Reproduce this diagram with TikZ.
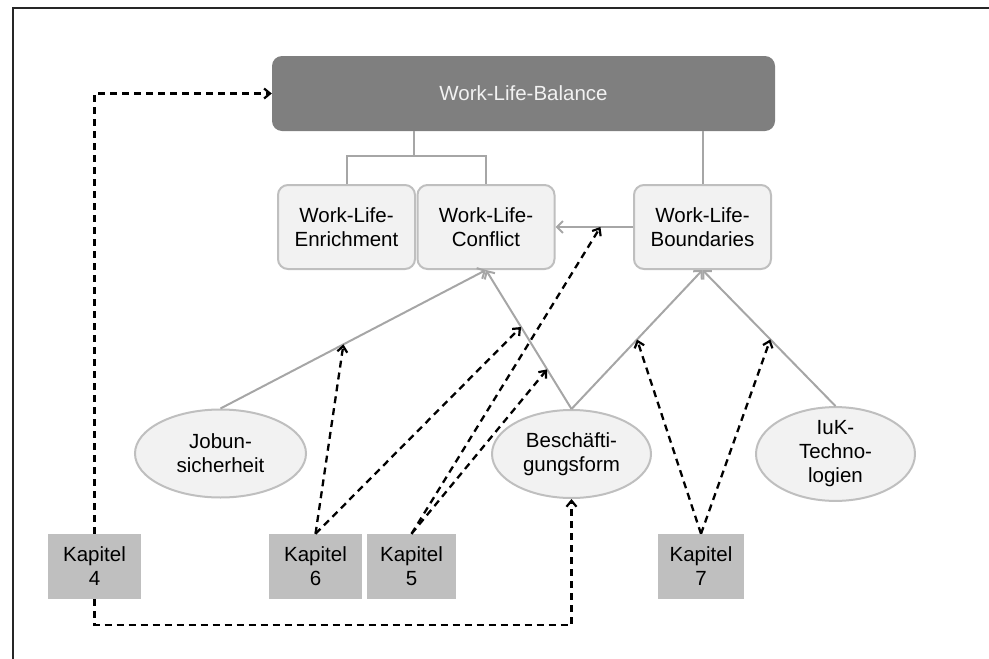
\documentclass[tikz,border=0pt]{standalone}
\usepackage{fontspec}
\setmainfont{Liberation Sans}
\usetikzlibrary{shapes.geometric,arrows.meta,calc}
\definecolor{darkbox}{HTML}{7F7F7F}
\definecolor{lightfill}{HTML}{F2F2F2}
\definecolor{boxline}{HTML}{BFBFBF}
\definecolor{grayline}{HTML}{A6A6A6}
\definecolor{kapfill}{HTML}{BFBFBF}
\definecolor{frameline}{HTML}{262626}
\begin{document}
\begin{tikzpicture}[x=1pt,y=-1pt,
  every node/.style={font=\fontsize{20.5}{24}\selectfont, align=center, inner sep=0pt},
  topbox/.style={rectangle, rounded corners=10pt, fill=darkbox, text=lightfill, minimum width=503pt, minimum height=75pt},
  conceptbox/.style={rectangle, rounded corners=10pt, fill=lightfill, draw=boxline, line width=2pt, minimum width=137pt, minimum height=84pt},
  factor/.style={ellipse, fill=lightfill, draw=boxline, line width=2pt, minimum height=88pt},
  kapbox/.style={rectangle, fill=kapfill, minimum height=65pt},
  structline/.style={draw=grayline, line width=2pt},
  grayarrow/.style={structline, -{Straight Barb[length=6pt,width=12pt,line width=2pt]}},
  dasharrow/.style={draw=black, line width=2.3pt, dash pattern=on 7pt off 5pt, -{Straight Barb[length=6pt,width=10pt,line width=2.2pt]}}
]
\useasboundingbox (0,0) rectangle (989,659);
% frame
\draw[frameline, line width=2pt] (13,659) -- (13,8) -- (989,8);

% concept boxes
\node[topbox] (bal) at (523.5,93.5) {Work-Life-Balance};
\node[conceptbox] (enr) at (346.5,227) {Work-Life-\\Enrichment};
\node[conceptbox] (con) at (486,227) {Work-Life-\\Conflict};
\node[conceptbox] (bnd) at (702.5,227) {Work-Life-\\Boundaries};

% factors
\node[factor, minimum width=171pt] (job) at (220.5,453.5) {Jobun-\\sicherheit};
\node[factor, minimum width=159pt] (besch) at (571.5,454) {Beschäfti-\\gungsform};
\node[factor, minimum width=159pt] (iuk) at (835.5,454) {IuK-\\Techno-\\logien};

% chapters
\node[kapbox, minimum width=93pt] (k4) at (94.5,566.5) {Kapitel\\4};
\node[kapbox, minimum width=93pt] (k6) at (315.5,566.5) {Kapitel\\6};
\node[kapbox, minimum width=89pt] (k5) at (411.5,566.5) {Kapitel\\5};
\node[kapbox, minimum width=86pt] (k7) at (701,566.5) {Kapitel\\7};

% structure lines
\coordinate (junc) at (414,156);
\draw[structline] (bal.south -| junc) -- (junc);
\draw[structline] (enr.north) |- (junc) -| (con.north);
\draw[structline] (bnd.north) -- (bnd.north |- bal.south);
\draw[grayarrow] (bnd.west) -- (con.east);
\draw[grayarrow] (job.north) -- (con.south);
\draw[grayarrow] (besch.north) -- (con.south);
\draw[grayarrow] (besch.north) -- (bnd.south);
\draw[grayarrow] (iuk.north) -- (bnd.south);

% target points on lines
\coordinate (tJob) at ($(job.north)!0.463!(con.south)$);
\coordinate (tBC1) at ($(besch.north)!0.59!(con.south)$);
\coordinate (tBC2) at ($(besch.north)!0.285!(con.south)$);
\coordinate (tBB) at ($(bnd.west)!0.42!(con.east)$);
\coordinate (tBnd) at ($(besch.north)!0.50!(bnd.south)$);
\coordinate (tIuK) at ($(iuk.north)!0.49!(bnd.south)$);
\coordinate (lowc) at (besch.south |- 0,625);

% chapter arrows
\draw[dasharrow] (k4.north) |- (bal.west);
\draw[dasharrow] (k4.south) |- (lowc) -- (besch.south);
\draw[dasharrow] (k6.north) -- (tJob);
\draw[dasharrow] (k6.north) -- (tBC1);
\draw[dasharrow] (k5.north) -- (tBC2);
\draw[dasharrow] (k5.north) -- (tBB);
\draw[dasharrow] (k7.north) -- (tBnd);
\draw[dasharrow] (k7.north) -- (tIuK);
\end{tikzpicture}
\end{document}
